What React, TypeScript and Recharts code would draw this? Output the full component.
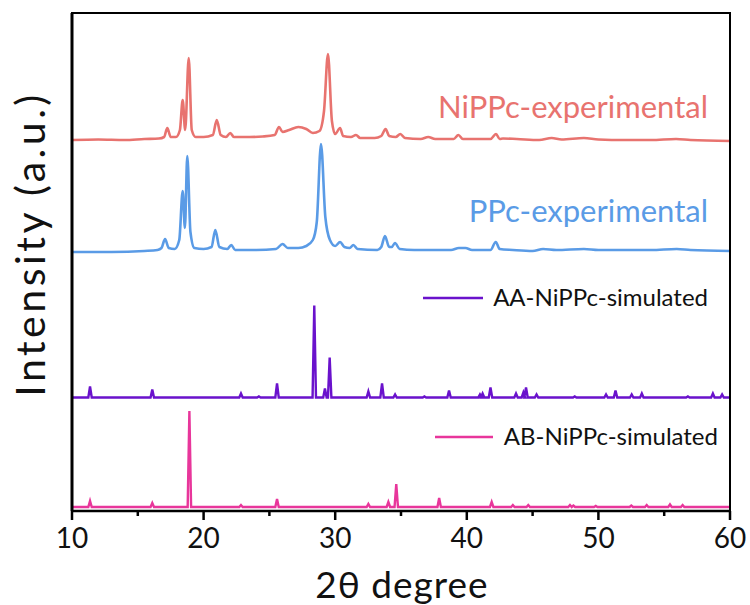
import { LineChart, Line, XAxis, YAxis, Customized } from "recharts";

const FONT = "Lato, 'Noto Sans', sans-serif";

// [2θ, intensity above the trace's own baseline]
const nippcExp: [number, number][] = [
  [10, 1], [12, 1.5], [14, 1], [15.5, 2], [16.6, 2.5], [17.0, 4], [17.24, 13], [17.5, 4],
  [17.9, 4], [18.2, 11], [18.41, 41], [18.6, 11], [18.87, 83], [19.1, 11], [19.4, 4],
  [20.0, 4], [20.7, 6], [21.0, 21], [21.3, 6], [21.7, 4], [22.03, 8], [22.3, 4], [23.5, 4],
  [24.5, 4.5], [25.4, 6], [25.73, 14], [26.0, 9], [26.5, 11], [27.2, 14], [27.8, 12],
  [28.3, 8], [28.8, 10], [29.15, 30], [29.45, 87], [29.75, 20], [30.0, 7], [30.37, 13],
  [30.6, 5], [31.2, 4], [31.58, 6], [31.9, 3], [33.0, 3], [33.5, 5], [33.83, 12], [34.1, 5],
  [34.6, 4], [34.95, 7], [35.3, 3], [36.5, 2], [37.07, 4], [37.6, 2], [39.0, 2], [39.36, 6],
  [39.7, 2], [40.5, 2], [41.8, 2], [42.22, 7], [42.5, 2], [42.75, 2.5], [43.8, 2], [45.5, 1],
  [46.45, 3], [47.2, 1.5], [48.9, 3], [50, 1.5], [52, 1], [54, 1], [55.9, 2], [57, 1], [60, 0],
];

const ppcExp: [number, number][] = [
  [10, 0], [13, 0], [15.5, 1], [16.5, 2], [16.8, 4], [17.07, 13], [17.35, 4], [17.8, 3],
  [18.15, 12], [18.41, 61], [18.58, 24], [18.76, 96], [19.0, 20], [19.3, 4], [20.0, 3],
  [20.6, 5], [20.89, 22], [21.2, 5], [21.8, 3], [22.1, 7], [22.4, 2], [24, 2], [25.5, 3],
  [26.0, 8], [26.4, 4], [27.2, 4], [27.8, 6], [28.3, 12], [28.6, 30], [28.92, 108],
  [29.25, 35], [29.6, 12], [30.0, 6], [30.37, 10], [30.7, 5], [31.1, 4], [31.38, 7],
  [31.7, 3], [33.2, 2], [33.5, 5], [33.78, 16], [34.1, 5], [34.3, 5], [34.54, 9], [34.9, 3],
  [36, 2], [37.2, 2], [38.8, 2], [39.4, 4], [39.9, 4], [40.4, 2], [41.8, 2], [42.2, 10],
  [42.5, 3], [43.5, 2], [45.0, 1], [45.8, 3], [46.8, 2], [48.9, 3], [50, 2], [52, 2],
  [54, 2], [55.95, 3], [57, 2], [60, 1],
];

// simulated stick patterns: [2θ, peak height]
const aaSimPeaks: [number, number][] = [
  [11.37, 11], [16.1, 8], [22.84, 4], [24.2, 1], [25.58, 14], [28.41, 92], [29.22, 9],
  [29.58, 40], [32.52, 6], [33.56, 14], [34.55, 3], [36.78, 1], [38.65, 7], [41.0, 3],
  [41.2, 4], [41.8, 10], [43.74, 4], [44.3, 5], [44.5, 10], [45.3, 3], [48.2, 1],
  [50.58, 3], [51.3, 7], [52.53, 3], [53.3, 4], [56.8, 1], [58.7, 4], [59.4, 3],
];

const abSimPeaks: [number, number][] = [
  [11.37, 6], [16.1, 4], [18.92, 96], [22.84, 2], [25.58, 8], [32.52, 3], [34.04, 5],
  [34.64, 23], [37.9, 9], [41.89, 5], [43.5, 2], [44.67, 2], [47.84, 2], [48.1, 1.5],
  [49.8, 1], [52.5, 1.5], [53.67, 2], [55.44, 2.5], [56.4, 2],
];

const names = ["NiPPc-experimental", "PPc-experimental", "AA-NiPPc-simulated", "AB-NiPPc-simulated"];
const colors = ["#E8736F", "#5A9BE6", "#6A12CC", "#E8369B"];
const offsets = [370, 259, 113.5, 4];
const xTicks = [10, 15, 20, 25, 30, 35, 40, 45, 50, 55, 60];

const shift = (pts: [number, number][], off: number) => pts.map(([x, y]) => ({ x, y: y + off }));
const sticks = (peaks: [number, number][], off: number) => {
  const rows = [{ x: 10, y: off }];
  peaks.forEach(([x, h]) => {
    rows.push({ x: x - 0.13, y: off }, { x, y: off + h }, { x: x + 0.13, y: off });
  });
  rows.push({ x: 60, y: off });
  return rows;
};

const series = [
  { data: shift(nippcExp, offsets[0]), type: "monotone" },
  { data: shift(ppcExp, offsets[1]), type: "monotone" },
  { data: sticks(aaSimPeaks, offsets[2]), type: "linear" },
  { data: sticks(abSimPeaks, offsets[3]), type: "linear" },
];

const XTick = (props: any) => {
  const { x, y, payload } = props;
  const major = payload.value % 10 === 0;
  return (
    <g>
      <line x1={x} x2={x} y1={y} y2={y + (major ? 9 : 5)} stroke="#000" strokeWidth={2.5} />
      {major && (
        <text x={x} y={y + 37} textAnchor="middle" fontSize={28} fontFamily={FONT} fill="#111">
          {payload.value}
        </text>
      )}
    </g>
  );
};

// labels and the two small legends
const Annotations = () => (
  <g fontFamily={FONT}>
    <text x={708} y={118} textAnchor="end" fontSize={31} fill={colors[0]}>{names[0]}</text>
    <text x={708} y={222} textAnchor="end" fontSize={31} fill={colors[1]}>{names[1]}</text>
    <line x1={423} x2={483} y1={298} y2={298} stroke={colors[2]} strokeWidth={2.5} />
    <text x={708} y={306} textAnchor="end" fontSize={24} fill="#111">{names[2]}</text>
    <line x1={435} x2={493} y1={437} y2={437} stroke={colors[3]} strokeWidth={2.5} />
    <text x={718} y={445} textAnchor="end" fontSize={24} fill="#111">{names[3]}</text>
    <text x={402} y={598} textAnchor="middle" fontSize={37} letterSpacing={1} fill="#111">2θ degree</text>
    <text
      x={45}
      y={244}
      textAnchor="middle"
      fontSize={41}
      letterSpacing={3.5}
      fill="#111"
      transform="rotate(-90 45 244)"
    >
      Intensity (a.u.)
    </text>
  </g>
);

export default function App() {
  return (
    <div style={{ position: "absolute", left: 0, top: 0, width: 750, height: 605, background: "#fff" }}>
      <LineChart width={750} height={605} margin={{ top: 13, right: 20, bottom: 0, left: 0 }}>
        <XAxis
          dataKey="x"
          type="number"
          domain={[10, 60]}
          ticks={xTicks}
          allowDataOverflow
          height={94}
          tickSize={0}
          tickMargin={0}
          tickLine={false}
          tick={<XTick />}
          axisLine={{ stroke: "#000", strokeWidth: 2.5 }}
        />
        <YAxis
          type="number"
          domain={[0, 498]}
          allowDataOverflow
          width={72}
          tick={false}
          tickLine={false}
          axisLine={{ stroke: "#000", strokeWidth: 3 }}
        />
        {series.map((s, i) => (
          <Line
            key={names[i]}
            data={s.data}
            dataKey="y"
            name={names[i]}
            type={s.type as any}
            stroke={colors[i]}
            strokeWidth={i < 2 ? 2.6 : 2.4}
            dot={false}
            isAnimationActive={false}
          />
        ))}
        <Customized component={<Annotations />} />
      </LineChart>
      {/* top and right edges of the frame */}
      <div
        style={{
          position: "absolute",
          left: 71,
          top: 12,
          width: 660,
          height: 499,
          boxSizing: "border-box",
          borderTop: "2.5px solid #000",
          borderRight: "2.5px solid #000",
          pointerEvents: "none",
        }}
      />
    </div>
  );
}
